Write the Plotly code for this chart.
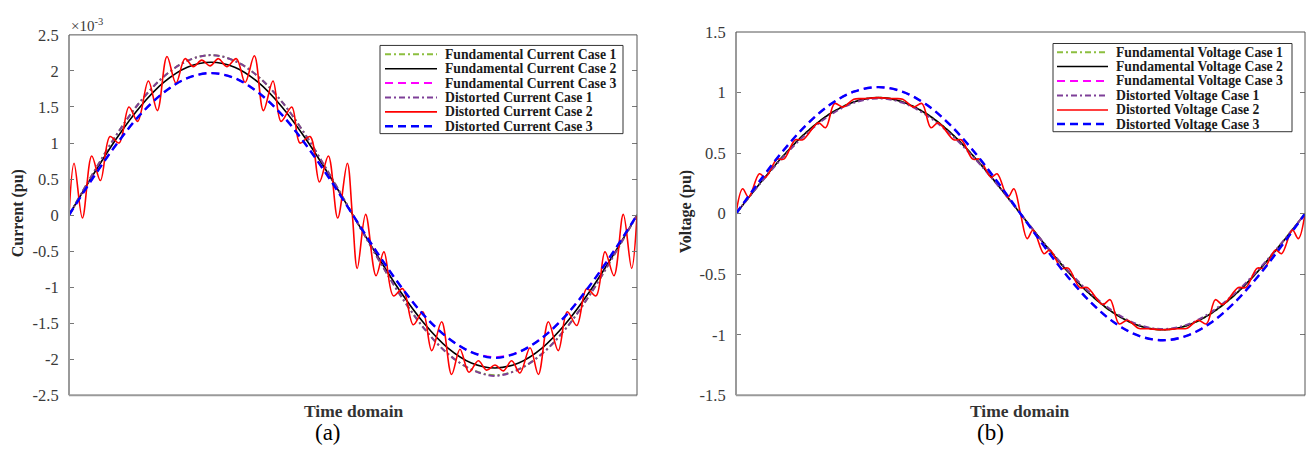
import plotly.graph_objects as go

W, H = 1310, 460

# ---------------- data (x = phase angle in degrees over one period) ----------------
ANGLE = [0, 15, 30, 45, 60, 75, 90, 105, 120, 135, 150, 165, 180,
         195, 210, 225, 240, 255, 270, 285, 300, 315, 330, 345, 360]

# current, in units of 1e-3 pu
I_FUND_C1 = [0, 0.57, 1.11, 1.57, 1.92, 2.14, 2.22, 2.14, 1.92, 1.57, 1.11, 0.57, 0,
             -0.57, -1.11, -1.57, -1.92, -2.14, -2.22, -2.14, -1.92, -1.57, -1.11, -0.57, 0]
I_FUND_C2 = [0, 0.55, 1.06, 1.50, 1.84, 2.05, 2.12, 2.05, 1.84, 1.50, 1.06, 0.55, 0,
             -0.55, -1.06, -1.50, -1.84, -2.05, -2.12, -2.05, -1.84, -1.50, -1.06, -0.55, 0]
I_FUND_C3 = [0, 0.51, 0.98, 1.39, 1.70, 1.90, 1.97, 1.90, 1.70, 1.39, 0.98, 0.51, 0,
             -0.51, -0.98, -1.39, -1.70, -1.90, -1.97, -1.90, -1.70, -1.39, -0.98, -0.51, 0]
I_DIST_C1 = [0, 0.57, 1.11, 1.57, 1.92, 2.14, 2.22, 2.14, 1.92, 1.57, 1.11, 0.57, 0,
             -0.57, -1.11, -1.57, -1.92, -2.14, -2.23, -2.14, -1.92, -1.57, -1.11, -0.57, 0]
I_DIST_C3 = [0, 0.51, 0.98, 1.39, 1.70, 1.90, 1.97, 1.90, 1.70, 1.39, 0.98, 0.51, 0,
             -0.51, -0.98, -1.39, -1.70, -1.90, -1.98, -1.90, -1.70, -1.39, -0.98, -0.51, 0]

I_DIST_C2_ANGLE = [0, 3.2, 8.5, 14.4, 19.9, 26.0, 31.7, 38.0, 43.5, 50.3, 56.0, 62.1, 67.8,
                   73.5, 78.8, 84.1, 89.4, 94.7, 100.0, 106.1, 111.6, 117.5, 123.2, 129.3,
                   134.4, 141.2, 146.4, 152.8, 158.7, 164.4, 170.3, 176.4, 179.6,
                   182.7, 188.0, 194.6, 199.6, 205.6, 211.5, 218.2, 224.2, 229.9, 236.2,
                   242.5, 247.8, 253.5, 259.4, 264.7, 270.0, 275.3, 280.6, 285.8, 292.2,
                   297.5, 303.8, 310.1, 315.8, 321.8, 328.1, 334.0, 339.7, 345.4, 351.3,
                   356.6, 360]
I_DIST_C2 = [0, 0.72, -0.04, 0.82, 0.48, 1.09, 1.00, 1.50, 1.30, 1.86, 1.45, 2.20, 1.83,
             2.17, 2.06, 2.15, 2.07, 2.17, 2.06, 2.17, 1.84, 2.21, 1.45, 1.86,
             1.30, 1.50, 1.00, 1.09, 0.46, 0.82, -0.04, 0.72, 0.0,
             -0.74, 0.01, -0.84, -0.51, -1.12, -1.02, -1.52, -1.34, -1.88, -1.48,
             -2.21, -1.86, -2.18, -2.02, -2.15, -2.08, -2.16, -2.02, -2.19, -1.84,
             -2.21, -1.48, -1.88, -1.34, -1.53, -1.02, -1.12, -0.51, -0.84, 0.01,
             -0.74, 0]

# voltage, pu
V_FUND_C1 = [0, 0.248, 0.479, 0.677, 0.829, 0.925, 0.958, 0.925, 0.829, 0.677, 0.479, 0.248, 0,
             -0.248, -0.479, -0.677, -0.829, -0.925, -0.958, -0.925, -0.829, -0.677, -0.479, -0.248, 0]
V_FUND_C2 = [0, 0.248, 0.479, 0.677, 0.829, 0.925, 0.958, 0.925, 0.829, 0.677, 0.479, 0.248, 0,
             -0.248, -0.479, -0.677, -0.829, -0.925, -0.958, -0.925, -0.829, -0.677, -0.479, -0.248, 0]
V_FUND_C3 = [0, 0.270, 0.522, 0.739, 0.905, 1.009, 1.045, 1.009, 0.905, 0.739, 0.522, 0.270, 0,
             -0.270, -0.522, -0.739, -0.905, -1.009, -1.045, -1.009, -0.905, -0.739, -0.522, -0.270, 0]
V_DIST_C1 = [0, 0.245, 0.470, 0.665, 0.818, 0.918, 0.952, 0.918, 0.818, 0.665, 0.470, 0.245, 0,
             -0.245, -0.470, -0.665, -0.818, -0.918, -0.952, -0.918, -0.818, -0.665, -0.470, -0.245, 0]
V_DIST_C3 = [0, 0.270, 0.522, 0.739, 0.905, 1.009, 1.045, 1.009, 0.905, 0.739, 0.522, 0.270, 0,
             -0.270, -0.522, -0.739, -0.905, -1.009, -1.045, -1.009, -0.905, -0.739, -0.522, -0.270, 0]

V_DIST_C2_ANGLE = [0, 4.2, 8.0, 14.8, 18.6, 25.9, 30.2, 37.5, 42.2, 52.1, 56.7, 62.4, 67.7,
                   74.5, 80.8, 90, 99.2, 105.5, 112.3, 117.6, 123.3, 127.9, 137.8, 142.5,
                   149.8, 154.1, 161.4, 165.2, 172.0, 175.8, 180,
                   184.2, 188.0, 194.8, 198.6, 205.9, 210.2, 217.5, 222.2, 232.1, 236.7,
                   242.4, 247.7, 254.5, 260.8, 270, 279.2, 285.5, 292.3, 297.6, 303.3,
                   307.9, 317.8, 322.5, 329.8, 334.1, 341.4, 345.2, 352.0, 355.8, 360]
V_DIST_C2 = [0, 0.206, 0.135, 0.33, 0.30, 0.45, 0.45, 0.61, 0.61, 0.75, 0.71, 0.91, 0.88,
             0.945, 0.95, 0.958, 0.95, 0.945, 0.88, 0.91, 0.71, 0.75, 0.61, 0.61,
             0.45, 0.45, 0.30, 0.33, 0.135, 0.206, 0,
             -0.206, -0.135, -0.33, -0.30, -0.45, -0.45, -0.61, -0.61, -0.75, -0.71,
             -0.91, -0.88, -0.945, -0.95, -0.958, -0.95, -0.945, -0.88, -0.91, -0.71,
             -0.75, -0.61, -0.61, -0.45, -0.45, -0.30, -0.33, -0.135, -0.206, 0]

I_TICKS = [-2.5, -2, -1.5, -1, -0.5, 0, 0.5, 1, 1.5, 2, 2.5]
I_TICKTEXT = ["-2.5", "-2", "-1.5", "-1", "-0.5", "0", "0.5", "1", "1.5", "2", "2.5"]
V_TICKS = [-1.5, -1, -0.5, 0, 0.5, 1, 1.5]
V_TICKTEXT = ["-1.5", "-1", "-0.5", "0", "0.5", "1", "1.5"]

CURRENT_NAMES = ["Fundamental Current Case 1", "Fundamental Current Case 2",
                 "Fundamental Current Case 3", "Distorted Current Case 1",
                 "Distorted Current Case 2", "Distorted Current Case 3"]
VOLTAGE_NAMES = ["Fundamental Voltage Case 1", "Fundamental Voltage Case 2",
                 "Fundamental Voltage Case 3", "Distorted Voltage Case 1",
                 "Distorted Voltage Case 2", "Distorted Voltage Case 3"]

# ---------------- styles ----------------
STYLES = [
    dict(color="#8cbf3f", width=2, dash="6px,3px,2px,3px"),
    dict(color="#000000", width=1.6, dash="solid"),
    dict(color="#ff00ff", width=2, dash="8px,5px"),
    dict(color="#7e3f98", width=2, dash="6px,3px,2px,3px"),
    dict(color="#ff0000", width=1.6, dash="solid"),
    dict(color="#0000ff", width=2.4, dash="8px,5px"),
]

SERIF = "Liberation Serif, Times New Roman, serif"

fig = go.Figure()

cur_x = [ANGLE, ANGLE, ANGLE, ANGLE, I_DIST_C2_ANGLE, ANGLE]
cur_y = [I_FUND_C1, I_FUND_C2, I_FUND_C3, I_DIST_C1, I_DIST_C2, I_DIST_C3]
vol_x = [ANGLE, ANGLE, ANGLE, ANGLE, V_DIST_C2_ANGLE, ANGLE]
vol_y = [V_FUND_C1, V_FUND_C2, V_FUND_C3, V_DIST_C1, V_DIST_C2, V_DIST_C3]

for name, xs, ys, st in zip(CURRENT_NAMES, cur_x, cur_y, STYLES):
    fig.add_trace(go.Scatter(x=xs, y=ys, mode="lines", name=name, showlegend=False,
                             line=dict(color=st["color"], width=st["width"], dash=st["dash"],
                                       shape="spline", smoothing=1.0),
                             xaxis="x", yaxis="y"))
for name, xs, ys, st in zip(VOLTAGE_NAMES, vol_x, vol_y, STYLES):
    fig.add_trace(go.Scatter(x=xs, y=ys, mode="lines", name=name, showlegend=False,
                             line=dict(color=st["color"], width=st["width"], dash=st["dash"],
                                       shape="spline", smoothing=1.0),
                             xaxis="x2", yaxis="y2"))

LX = [69 / W, 637 / W]
RX = [736 / W, 1305 / W]
LY = [1 - 403 / H, 1 - 27 / H]
RY = [1 - 403 / H, 1 - 24 / H]

def xax(domain, anchor):
    return dict(domain=domain, anchor=anchor, range=[0, 360], showgrid=False, zeroline=False,
                showticklabels=False, ticks="", showline=False)

def yax(domain, anchor, rng, tv, tt):
    return dict(domain=domain, anchor=anchor, range=rng, tickvals=tv, ticktext=tt,
                showgrid=False, zeroline=False, ticks="inside", ticklen=5, tickwidth=1,
                tickcolor="#777777", showline=True, linecolor="rgba(0,0,0,0)", mirror="ticks",
                ticklabelstandoff=6,
                tickfont=dict(family=SERIF, size=16.5, color="#3a3a3a"))

fig.update_layout(
    width=W, height=H, autosize=False,
    margin=dict(l=0, r=0, t=0, b=0),
    paper_bgcolor="white", plot_bgcolor="white",
    xaxis=xax(LX, "y"),
    yaxis=yax(LY, "x", [-2.5, 2.5], I_TICKS, I_TICKTEXT),
    xaxis2=xax(RX, "y2"),
    yaxis2=yax(RY, "x2", [-1.5, 1.5], V_TICKS, V_TICKTEXT),
    showlegend=False,
)

# frame lines: grey left/bottom, dark thin top/right (MATLAB look)
shapes = []
for xr, yr in (("x domain", "y domain"), ("x2 domain", "y2 domain")):
    shapes.append(dict(type="line", xref=xr, yref=yr, x0=0, x1=0, y0=0, y1=1,
                       line=dict(color="#9a9a9a", width=2), layer="above"))
    shapes.append(dict(type="line", xref=xr, yref=yr, x0=0, x1=1, y0=0, y1=0,
                       line=dict(color="#9a9a9a", width=2), layer="above"))
    shapes.append(dict(type="line", xref=xr, yref=yr, x0=0, x1=1, y0=1, y1=1,
                       line=dict(color="#555555", width=1), layer="above"))
    shapes.append(dict(type="line", xref=xr, yref=yr, x0=1, x1=1, y0=0, y1=1,
                       line=dict(color="#555555", width=1), layer="above"))

annotations = []

# hand-built legends (MATLAB-like compact boxes)
def add_legend(names, box, line_x, text_x, rows):
    bx0, by0, bx1, by1 = box
    shapes.append(dict(type="rect", xref="paper", yref="paper",
                       x0=bx0 / W, x1=bx1 / W, y0=1 - by1 / H, y1=1 - by0 / H,
                       line=dict(color="#333333", width=1), fillcolor="white", layer="above"))
    for name, st, ry in zip(names, STYLES, rows):
        shapes.append(dict(type="line", xref="paper", yref="paper",
                           x0=line_x[0] / W, x1=line_x[1] / W, y0=1 - ry / H, y1=1 - ry / H,
                           line=dict(color=st["color"], width=st["width"], dash=st["dash"]),
                           layer="above"))
        annotations.append(dict(text="<b>%s</b>" % name, x=text_x / W, y=1 - ry / H,
                                xref="paper", yref="paper", showarrow=False,
                                xanchor="left", yanchor="middle",
                                font=dict(family=SERIF, size=13.7, color="#1a1a1a")))

add_legend(CURRENT_NAMES, (380, 38, 623, 130), (385, 437), 443,
           [47.3, 62.3, 77.3, 92.3, 107.3, 122.3])
add_legend(VOLTAGE_NAMES, (1053, 36, 1292, 128), (1057, 1108), 1114,
           [45, 60, 75, 90.3, 105.3, 120])

def ann(text, x, y, size, bold=False, angle=0, color="#262626", xanchor="center"):
    return dict(text=("<b>%s</b>" % text) if bold else text, x=x / W, y=1 - y / H,
                xref="paper", yref="paper", showarrow=False, textangle=angle,
                xanchor=xanchor, yanchor="middle",
                font=dict(family=SERIF, size=size, color=color))

annotations += [
    ann("×10<sup>-3</sup>", 69, 17, 15, color="#3a3a3a", xanchor="left"),
    ann("Current (pu)", 18, 213, 16, bold=True, angle=-90),
    ann("Voltage (pu)", 686, 212, 16, bold=True, angle=-90),
    ann("Time domain", 354, 419, 17.5, bold=True, color="#333333"),
    ann("Time domain", 1020, 419, 17.5, bold=True, color="#333333"),
    ann("(a)", 328, 442, 23, color="#000000"),
    ann("(b)", 990, 442, 23, color="#000000"),
]

fig.update_layout(shapes=shapes, annotations=annotations)

POST = (
    "var s='margin:0;padding:0;overflow:hidden;';"
    "document.documentElement.style.cssText+=s;"
    "document.body.style.cssText+=s;"
    "var d=document.getElementById('{plot_id}');"
    "d.style.position='fixed';d.style.left='0px';d.style.top='0px';"
)

fig.write_html("out.html", config={"displayModeBar": False, "responsive": False},
               post_script=POST)
